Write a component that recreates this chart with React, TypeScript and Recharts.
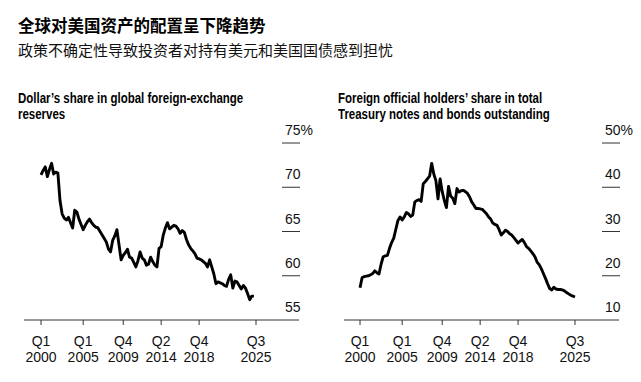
import React from 'react';
import { LineChart, Line, XAxis, YAxis } from 'recharts';

// quarterly readings, 2000 Q1 onward
const dollarShare = [
  71.4, 71.9, 72.3, 71.2,
  72.0, 72.7, 71.5, 71.7,
  71.6, 68.5, 67.0, 66.5,
  66.3, 66.6, 66.0, 65.4,
  67.4, 67.2, 66.4, 65.8,
  65.2, 65.7, 66.1, 66.4,
  66.0, 65.7, 65.5, 65.4,
  65.0, 64.6, 64.2, 63.8,
  63.0, 62.7, 64.0, 64.5,
  65.2, 63.5, 61.8, 62.3,
  62.6, 63.0, 62.1, 62.0,
  61.5, 61.0, 61.7, 62.7,
  62.0, 61.8, 61.2, 61.3,
  62.1, 61.6, 61.2, 61.0,
  63.1, 63.3, 64.6, 65.4,
  66.0, 65.3, 65.5, 65.7,
  65.6, 65.3, 64.8, 65.1,
  64.9, 64.1, 63.5, 63.1,
  62.8, 62.5, 62.0, 61.9,
  61.8, 61.6, 61.4, 61.0,
  61.8, 61.0, 60.2, 59.1,
  59.3, 59.2, 59.1, 58.9,
  58.8, 59.6, 60.1, 58.6,
  59.4, 59.3, 58.9, 58.5,
  58.9, 58.6, 58.0, 57.3,
  57.7, 57.7,
];

const foreignHolders = [
  17.3, 19.6, 19.8, 19.9,
  20.0, 20.2, 20.5, 21.1,
  20.7, 20.4, 22.6, 24.3,
  24.5, 24.6, 26.2, 27.5,
  28.5, 30.5, 32.5, 33.3,
  32.6, 33.3, 34.3, 34.0,
  33.4, 33.7, 36.7, 37.0,
  37.2, 36.8, 40.8, 41.3,
  41.9, 42.5, 45.4, 43.0,
  41.5, 37.4, 41.9, 39.0,
  37.0, 35.4, 40.2, 38.0,
  37.5, 36.3, 39.7, 38.9,
  39.2, 39.3, 39.0, 38.6,
  37.8, 36.7, 36.0, 35.2,
  35.2, 35.1, 35.0, 34.5,
  34.0, 33.3, 32.8, 31.9,
  31.6, 31.4, 30.4, 29.2,
  29.7, 30.3, 30.0, 29.5,
  29.2, 28.6, 28.0, 27.4,
  27.8, 28.2, 27.5, 26.6,
  26.2, 25.6, 25.0, 24.3,
  23.1, 22.5, 21.6, 20.5,
  19.4, 18.2, 17.1, 16.8,
  17.4, 17.0, 16.9, 16.9,
  16.8, 16.6, 16.2, 15.9,
  15.6, 15.4, 15.2,
];

const xTicks = [2000, 2005, 2009.75, 2014.25, 2018.75, 2025.5];
const xTickQuarter = ['Q1', 'Q1', 'Q4', 'Q2', 'Q4', 'Q3'];
const xTickYear = ['2000', '2005', '2009', '2014', '2018', '2025'];

const leftTicks = [55, 60, 65, 70, 75];
const rightTicks = [10, 20, 30, 40, 50];

const FONT = '"Liberation Sans", Arial, sans-serif';

const toRows = (values: number[]) => values.map((v, i) => ({ t: 2000 + i * 0.25, v }));

function XTick(props: any) {
  const { x, y, payload } = props;
  const i = xTicks.indexOf(payload.value);
  return (
    <g>
      <line x1={x} x2={x} y1={y - 8} y2={y - 3} stroke="#333" />
      <text x={x} y={y + 18} textAnchor="middle" fontSize={14} fill="#111" fontFamily={FONT}>{xTickQuarter[i]}</text>
      <text x={x} y={y + 34} textAnchor="middle" fontSize={14} fill="#111" fontFamily={FONT}>{xTickYear[i]}</text>
    </g>
  );
}

function makeYTick(top: number, bottom: number) {
  return (props: any) => {
    const { x, y, payload } = props;
    const label = payload.value === top ? `${payload.value}%` : `${payload.value}`;
    return (
      <g>
        {payload.value !== bottom && <line x1={x - 17} x2={x + 1} y1={y} y2={y} stroke="#333" />}
        <text x={x - 14} y={y - 8} fontSize={14} fill="#111" fontFamily={FONT}>{label}</text>
      </g>
    );
  };
}

function Panel({ left, data, domainX, ticks, title }: {
  left: number; data: number[]; domainX: [number, number]; ticks: number[]; title: string[];
}) {
  const rows = toRows(data);
  const lo = ticks[0];
  const hi = ticks[ticks.length - 1];
  return (
    <div style={{ position: 'absolute', left, top: 0 }}>
      <div style={{
        position: 'absolute', left: 18, top: 91, fontFamily: FONT,
        fontWeight: 700, fontSize: 14, lineHeight: '15.5px', color: '#000', whiteSpace: 'nowrap',
        transform: 'scaleX(0.82)', transformOrigin: '0 0',
      }}>
        {title.map(t => <div key={t}>{t}</div>)}
      </div>
      <LineChart width={320} height={382} data={rows} margin={{ top: 143, right: 20, bottom: 22, left: 24 }}>
        <XAxis
          dataKey="t" type="number" domain={domainX} ticks={xTicks} interval={0}
          axisLine={{ stroke: '#333' }} tickLine={false} tick={<XTick />} height={40}
          allowDataOverflow
        />
        <YAxis
          orientation="right" width={1} domain={[lo, hi]} ticks={ticks} interval={0}
          axisLine={false} tickLine={false} tickSize={0} tickMargin={0}
          tick={makeYTick(hi, lo)} allowDataOverflow
        />
        <Line dataKey="v" type="linear" stroke="#000" strokeWidth={2.9} dot={false} isAnimationActive={false} strokeLinejoin="round" />
      </LineChart>
    </div>
  );
}

export default function App() {
  return (
    <div style={{ position: 'absolute', left: 0, top: 0, width: 641, height: 382, background: '#fff', overflow: 'hidden' }}>
      <div style={{ position: 'absolute', left: 18, top: 14, fontFamily: '"Noto Sans CJK SC"', fontWeight: 700, fontSize: 16.5, lineHeight: '22px', color: '#000' }}>
        全球对美国资产的配置呈下降趋势
      </div>
      <div style={{ position: 'absolute', left: 18, top: 39, fontFamily: '"Noto Sans CJK SC"', fontWeight: 400, fontSize: 15, lineHeight: '22px', color: '#111' }}>
        政策不确定性导致投资者对持有美元和美国国债感到担忧
      </div>
      <Panel left={0} data={dollarShare} domainX={[1997.98, 2030.6]} ticks={leftTicks}
        title={['Dollar\u2019s share in global foreign-exchange', 'reserves']} />
      <Panel left={320} data={foreignHolders} domainX={[1998.1, 2030.72]} ticks={rightTicks}
        title={['Foreign official holders\u2019 share in total', 'Treasury notes and bonds outstanding']} />
    </div>
  );
}
